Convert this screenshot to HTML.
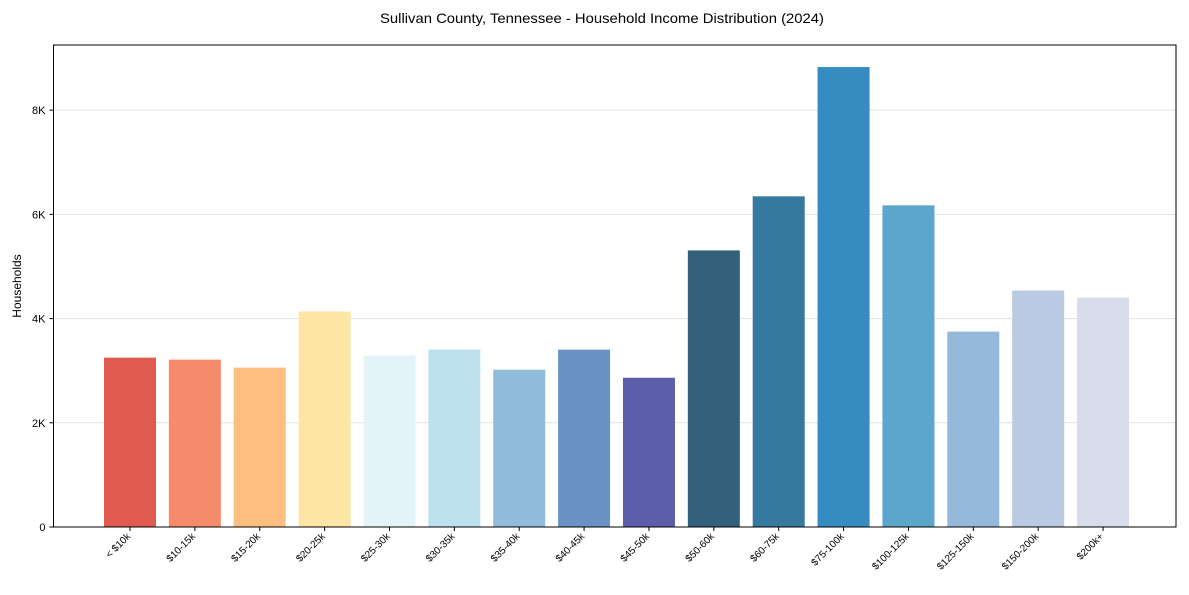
<!DOCTYPE html>
<html><head><meta charset="utf-8"><style>
body{margin:0;background:#fff;}
svg text{font-family:"Liberation Sans",Arial,sans-serif;fill:#000;}
</style></head><body>
<svg id="chart" width="1189" height="590">
<text x="602" y="23" text-anchor="middle" font-size="14" textLength="444" lengthAdjust="spacingAndGlyphs">Sullivan County, Tennessee - Household Income Distribution (2024)</text>
<text transform="translate(21,286) rotate(-90)" text-anchor="middle" font-size="12">Households</text>
<g id="grid"></g><g id="bars"></g><g id="axes"></g>
</svg>
<script>
const categories=["< $10k","$10-15k","$15-20k","$20-25k","$25-30k","$30-35k","$35-40k","$40-45k","$45-50k","$50-60k","$60-75k","$75-100k","$100-125k","$125-150k","$150-200k","$200k+"];
const households=[3250,3212,3058,4135,3288,3404,3019,3404,2865,5308,6346,8827,6173,3750,4538,4404];
const barColors=["#e05a50","#f58b6a","#fdbe7f","#fde5a5","#e4f3f8","#bbe0ee","#91bcdc","#6a92c4","#5c5eaa","#33607a","#36799f","#368bc1","#5ca5cb","#94b9da","#bacae3","#d9dcea"];
const yTicks=[0,2000,4000,6000,8000];
const yTickLabels=["0","2K","4K","6K","8K"];
const NS="http://www.w3.org/2000/svg";
const L=53.5,R=1176,T=45,B=527,yMax=9250;
const y=v=>B-(v/yMax)*(B-T);
const step=64.87,x0=130;
const x=i=>x0+i*step;
const bw=52;
function mk(t,a,p){const e=document.createElementNS(NS,t);for(const k in a)e.setAttribute(k,a[k]);p.appendChild(e);return e;}
const grid=document.getElementById('grid'),bars=document.getElementById('bars'),axes=document.getElementById('axes');
yTicks.forEach((v,i)=>{
 if(v>0){const g=mk('line',{x1:L,x2:R,y1:y(v),y2:y(v),stroke:'#e3e3e3','stroke-width':1},grid);
 
 }
 const tk=mk('line',{x1:L-4,x2:L,y1:y(v),y2:y(v),stroke:'#000'},axes);
 
 
 const t=mk('text',{x:L-8,y:y(v)+4,'text-anchor':'end','font-size':'11'},axes);t.textContent=yTickLabels[i];
 
 
});
categories.forEach((c,i)=>{
 const r=mk('rect',{x:x(i)-bw/2,y:y(households[i]),width:bw,height:B-y(households[i]),fill:barColors[i]},bars);
 
 
 const tk=mk('line',{x1:x(i),x2:x(i),y1:B,y2:B+4,stroke:'#000'},axes);
 
 
 const t=mk('text',{transform:`translate(${x(i)+1},${B+10}) rotate(-45)`,'text-anchor':'end','font-size':'10'},axes);t.textContent=c;
 
 
});
const fr=mk('rect',{x:L,y:T,width:R-L,height:B-T,fill:'none',stroke:'#000','stroke-width':1},axes);


</script>
</body></html>
